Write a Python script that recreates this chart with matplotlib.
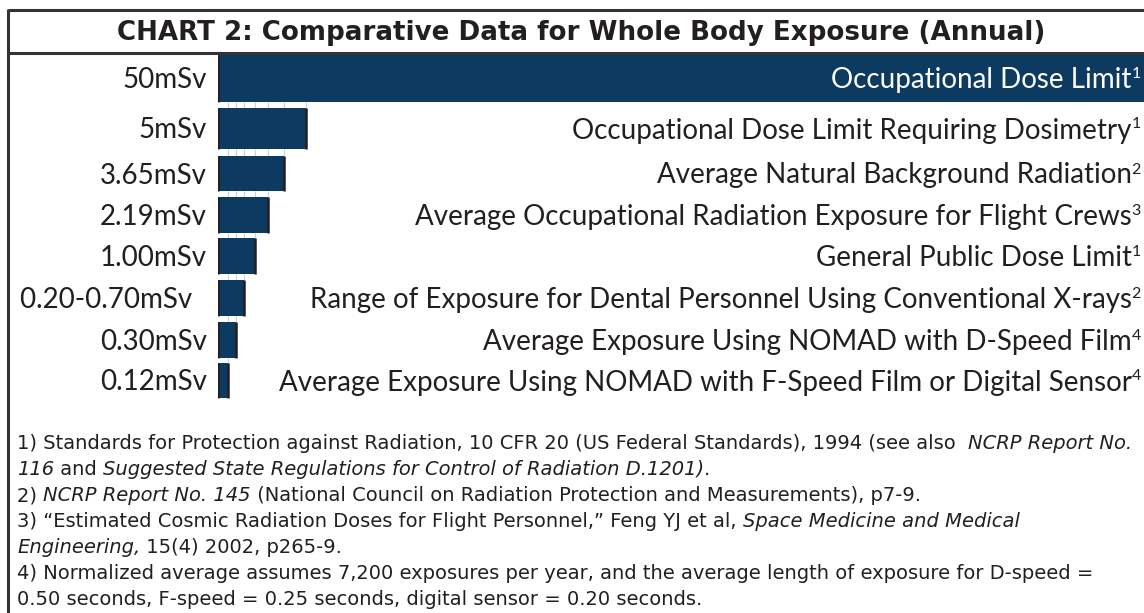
#!/usr/bin/env python3
"""Chart 2: comparative data for whole body exposure (annual)."""

import matplotlib

matplotlib.use("Agg")
import matplotlib.pyplot as plt

plt.rcParams["font.family"] = ["Lato", "DejaVu Sans"]

# ---- data -----------------------------------------------------------------
value_labels = ["50mSv", "5mSv", "3.65mSv", "2.19mSv", "1.00mSv",
                "0.20-0.70mSv  ", "0.30mSv", "0.12mSv"]
descriptions = [
    "Occupational Dose Limit",
    "Occupational Dose Limit Requiring Dosimetry",
    "Average Natural Background Radiation",
    "Average Occupational Radiation Exposure for Flight Crews",
    "General Public Dose Limit",
    "Range of Exposure for Dental Personnel Using Conventional X-rays",
    "Average Exposure Using NOMAD with D-Speed Film",
    "Average Exposure Using NOMAD with F-Speed Film or Digital Sensor",
]
footnote_refs = ["1", "1", "2", "3", "1", "2", "4", "4"]
# drawn bar lengths (the chart is schematic, not to scale)
bar_lengths = [50.0, 4.75, 3.56, 2.70, 2.00, 1.40, 0.97, 0.54]

footnotes = [
    [("1) Standards for Protection against Radiation, 10 CFR 20 (US Federal Standards), 1994 (see also  ", "normal"),
     ("NCRP Report No.", "italic")],
    [("116", "italic"), (" and ", "normal"),
     ("Suggested State Regulations for Control of Radiation D.1201)", "italic"), (".", "normal")],
    [("2) ", "normal"), ("NCRP Report No. 145", "italic"),
     (" (National Council on Radiation Protection and Measurements), p7-9.", "normal")],
    [("3) \u201cEstimated Cosmic Radiation Doses for Flight Personnel,\u201d Feng YJ et al, ", "normal"),
     ("Space Medicine and Medical", "italic")],
    [("Engineering,", "italic"), (" 15(4) 2002, p265-9.", "normal")],
    [("4) Normalized average assumes 7,200 exposures per year, and the average length of exposure for D-speed =",
      "normal")],
    [("0.50 seconds, F-speed = 0.25 seconds, digital sensor = 0.20 seconds.", "normal")],
]

TITLE = "CHART 2: Comparative Data for Whole Body Exposure (Annual)"

# ---- layout (pixels) ------------------------------------------------------
W, H = 1144, 613
BAR_X0 = 218
ROW_TOPS = [54, 108, 156, 197, 238, 280, 322, 363]
ROW_BOTS = [102, 149, 191, 233, 274, 316, 358, 398]
NAVY = "#0c3a60"
INK = "#231f20"

fig = plt.figure(figsize=(W / 100, H / 100), dpi=100)

ax = fig.add_axes([BAR_X0 / W, 0, (W - BAR_X0) / W, 1])
ax.set_xlim(0, max(bar_lengths))
ax.set_ylim(H, 0)
ax.axis("off")
ax.set_zorder(0)

bg = fig.add_axes([0, 0, 1, 1])
bg.set_xlim(0, W)
bg.set_ylim(H, 0)
bg.axis("off")
bg.set_zorder(1)
bg.patch.set_alpha(0)

centers = [(t + b) / 2 for t, b in zip(ROW_TOPS, ROW_BOTS)]
heights = [b - t for t, b in zip(ROW_TOPS, ROW_BOTS)]

# faint guide ticks at the bar ends, only in the gaps between rows
for i in range(len(bar_lengths) - 1):
    ax.vlines(bar_lengths[i + 1:], ROW_BOTS[i], ROW_TOPS[i + 1],
              colors="#c9d1d9", lw=0.8, zorder=0)
ax.barh(centers, bar_lengths, height=heights, color=NAVY, zorder=2)
ax.vlines([0] * len(bar_lengths), ROW_TOPS, ROW_BOTS, colors=INK, lw=1.8, zorder=3)
longest = max(bar_lengths)
ends = [(L, t, b) for L, t, b in zip(bar_lengths, ROW_TOPS, ROW_BOTS) if L < longest]
ax.vlines([e[0] for e in ends], [e[1] for e in ends], [e[2] for e in ends],
          colors=INK, lw=1.8, zorder=3)

# frame
bg.plot([8, W], [10, 10], color="#333333", lw=2.2, solid_capstyle="butt")
bg.plot([8, W], [52.5, 52.5], color="#333333", lw=2.2, solid_capstyle="butt")
bg.plot([8, 8], [9, H], color="#333333", lw=2.2, solid_capstyle="butt")

bg.text(581, 40, TITLE, ha="center", va="baseline", fontsize=18.8,
        fontweight="bold", color=INK, family="DejaVu Sans")

renderer = fig.canvas.get_renderer()


def draw_runs(x, y, runs, ha="left"):
    """Draw text pieces side by side from (x, baseline y); runs = (text, kwargs, dy)."""
    pieces = []
    total = 0.0
    for s, kw, dy in runs:
        t = bg.text(0, y + dy, s, va="baseline", ha="left", **kw)
        w = t.get_window_extent(renderer).width
        pieces.append((t, w))
        total += w
    cur = x - total if ha == "right" else x
    for t, w in pieces:
        t.set_x(cur)
        cur += w


for i, (c, lab, desc, ref) in enumerate(zip(centers, value_labels, descriptions, footnote_refs)):
    base = c + 10
    bg.text(207, base, lab, ha="right", va="baseline", fontsize=20, color=INK)
    col = "white" if i == 0 else INK
    draw_runs(1141, base, [(desc, dict(fontsize=20, color=col), 0),
                           (ref, dict(fontsize=11.5, color=col), -10)], ha="right")

y0 = 449
for k, line in enumerate(footnotes):
    runs = [(s, dict(fontsize=14, color=INK, fontstyle=st, family="DejaVu Sans"), 0)
            for s, st in line]
    draw_runs(17, y0 + k * 26, runs)

fig.savefig("out.png", dpi=100)
